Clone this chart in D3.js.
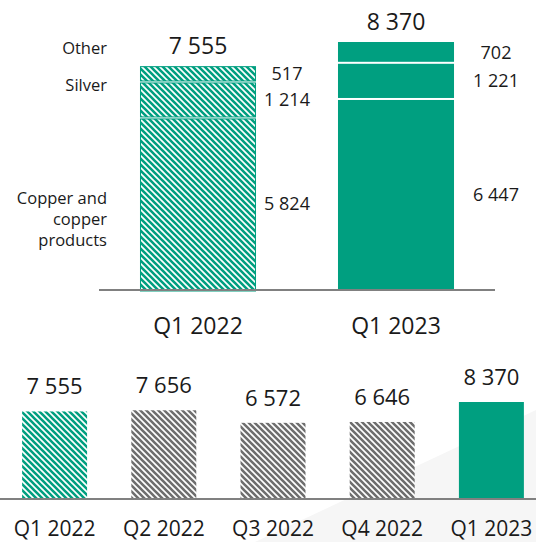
<!DOCTYPE html>
<html><head><meta charset="utf-8">
<script src="https://cdn.jsdelivr.net/npm/d3@7"></script>
<style>html,body{margin:0;padding:0;background:#fff;}svg{display:block;font-family:"Open Sans",sans-serif;}</style>
</head><body>
<script>
// ---- data ----
const topCategories = ["Q1 2022", "Q1 2023"];
const segments = ["Copper and copper products", "Silver", "Other"];
const copperValues = [5824, 6447];
const silverValues = [1214, 1221];
const otherValues = [517, 702];
const topTotals = [7555, 8370];
const segmentLabelLines = [["Copper and", "copper", "products"], ["Silver"], ["Other"]];

const quarters = ["Q1 2022", "Q2 2022", "Q3 2022", "Q4 2022", "Q1 2023"];
const quarterValues = [7555, 7656, 6572, 6646, 8370];

const fmt = v => d3.format(",")(v).replace(/,/g, " ");

const W = 536, H = 542;
const GREEN = "#009f80", GRAY = "#6e6e6e", TEXT = "#1a1a1a";
const svg = d3.select("body").append("svg").attr("width", W).attr("height", H);

// patterns
const defs = svg.append("defs");
function hatch(id, color) {
  const p = defs.append("pattern").attr("id", id).attr("patternUnits", "userSpaceOnUse")
    .attr("width", 6).attr("height", 6);
  p.append("rect").attr("width", 6).attr("height", 6).attr("fill", "#fff");
  p.append("path").attr("d", "M-1,-1L7,7M-1,5L1,7M5,-1L7,1")
    .attr("stroke", color).attr("stroke-width", 2.6).attr("fill", "none");
}
hatch("hg", GREEN);
hatch("hgray", GRAY);

// background wedge
svg.append("polygon").attr("points", "255,542 536,410 536,542").attr("fill", "#f6f6f6");

// ---- top chart ----
const xTop = d3.scaleBand().domain(topCategories).range([99, 495]).paddingInner(0.414).paddingOuter(0.207);
const yTop = d3.scaleLinear().domain([0, 8370]).range([290, 42]);

const stackData = topCategories.map((c, i) => ({cat: c, copper: copperValues[i], silver: silverValues[i], other: otherValues[i], total: topTotals[i]}));
const stack = d3.stack().keys(["copper", "silver", "other"])(stackData);

stack.forEach((layer, li) => {
  layer.forEach((d, i) => {
    const x = xTop(topCategories[i]), w = xTop.bandwidth();
    const y0 = yTop(d[0]), y1 = yTop(d[1]);
    const hatched = i === 0;
    if (hatched) {
      svg.append("rect").attr("x", x + 0.5).attr("y", y1 + (li === 2 ? 0.5 : 1.5)).attr("width", w - 1)
        .attr("height", Math.max(0, y0 - y1 - (li === 2 ? 1 : 2) - (li === 0 ? -1.5 : 0)))
        .attr("fill", "url(#hg)").attr("stroke", GREEN).attr("stroke-width", 1);
    } else {
      svg.append("rect").attr("x", x).attr("y", y1 + (li === 2 ? 0 : 1)).attr("width", w)
        .attr("height", y0 - y1 - (li === 2 ? 1 : (li === 0 ? 0 : 2)) + (li === 0 ? -1 : 0))
        .attr("fill", GREEN);
    }
    const lx = i === 0 ? x + w + 31 : x + w + 42;
    svg.append("text").attr("x", lx).attr("y", (y0 + y1) / 2).attr("dy", "0.35em")
      .attr("text-anchor", "middle").attr("font-size", 18).attr("fill", TEXT)
      .text(fmt(d.data[layer.key]));
  });
});

// totals
topCategories.forEach((c, i) => {
  svg.append("text").attr("x", xTop(c) + xTop.bandwidth() / 2).attr("y", yTop(topTotals[i]) - 20)
    .attr("dy", "0.35em").attr("text-anchor", "middle").attr("font-size", 23).attr("fill", TEXT)
    .text(fmt(topTotals[i]));
});

// axis
const axTop = svg.append("g").attr("transform", "translate(0,290)").call(d3.axisBottom(xTop).tickSize(0).tickPadding(28));
axTop.select(".domain").attr("stroke", "#808080").attr("stroke-width", 2).attr("d", "M99,0H495");
axTop.selectAll("text").attr("font-size", 23).attr("fill", TEXT).attr("font-family", "Open Sans");

// segment labels (left)
const segLabelY = [[198, 219, 240], [85], [48]];
segmentLabelLines.forEach((lines, si) => {
  lines.forEach((ln, k) => {
    svg.append("text").attr("x", 107).attr("y", segLabelY[si][k]).attr("dy", "0.35em")
      .attr("text-anchor", "end").attr("font-size", 16.5).attr("fill", TEXT).text(ln);
  });
});

// ---- bottom chart ----
const xB = d3.scaleBand().domain(quarters).range([0, 546]).paddingInner(0.405).paddingOuter(0.2025);
const yB = d3.scaleLinear().domain([0, 8370]).range([499, 402]);

quarters.forEach((q, i) => {
  const fill = i === 0 ? "url(#hg)" : (i === quarters.length - 1 ? GREEN : "url(#hgray)");
  svg.append("rect").attr("x", xB(q)).attr("y", yB(quarterValues[i])).attr("width", xB.bandwidth())
    .attr("height", yB(0) - yB(quarterValues[i])).attr("fill", fill);
  svg.append("text").attr("x", xB(q) + xB.bandwidth() / 2).attr("y", yB(quarterValues[i]) - 25)
    .attr("dy", "0.35em").attr("text-anchor", "middle").attr("font-size", 22).attr("fill", TEXT)
    .text(fmt(quarterValues[i]));
});
const axB = svg.append("g").attr("transform", "translate(0,499)").call(d3.axisBottom(xB).tickSize(0).tickPadding(22));
axB.select(".domain").attr("stroke", "#808080").attr("stroke-width", 2).attr("d", "M0,0H536");
axB.selectAll("text").attr("font-size", 21).attr("fill", TEXT).attr("font-family", "Open Sans");
</script>
</body></html>
